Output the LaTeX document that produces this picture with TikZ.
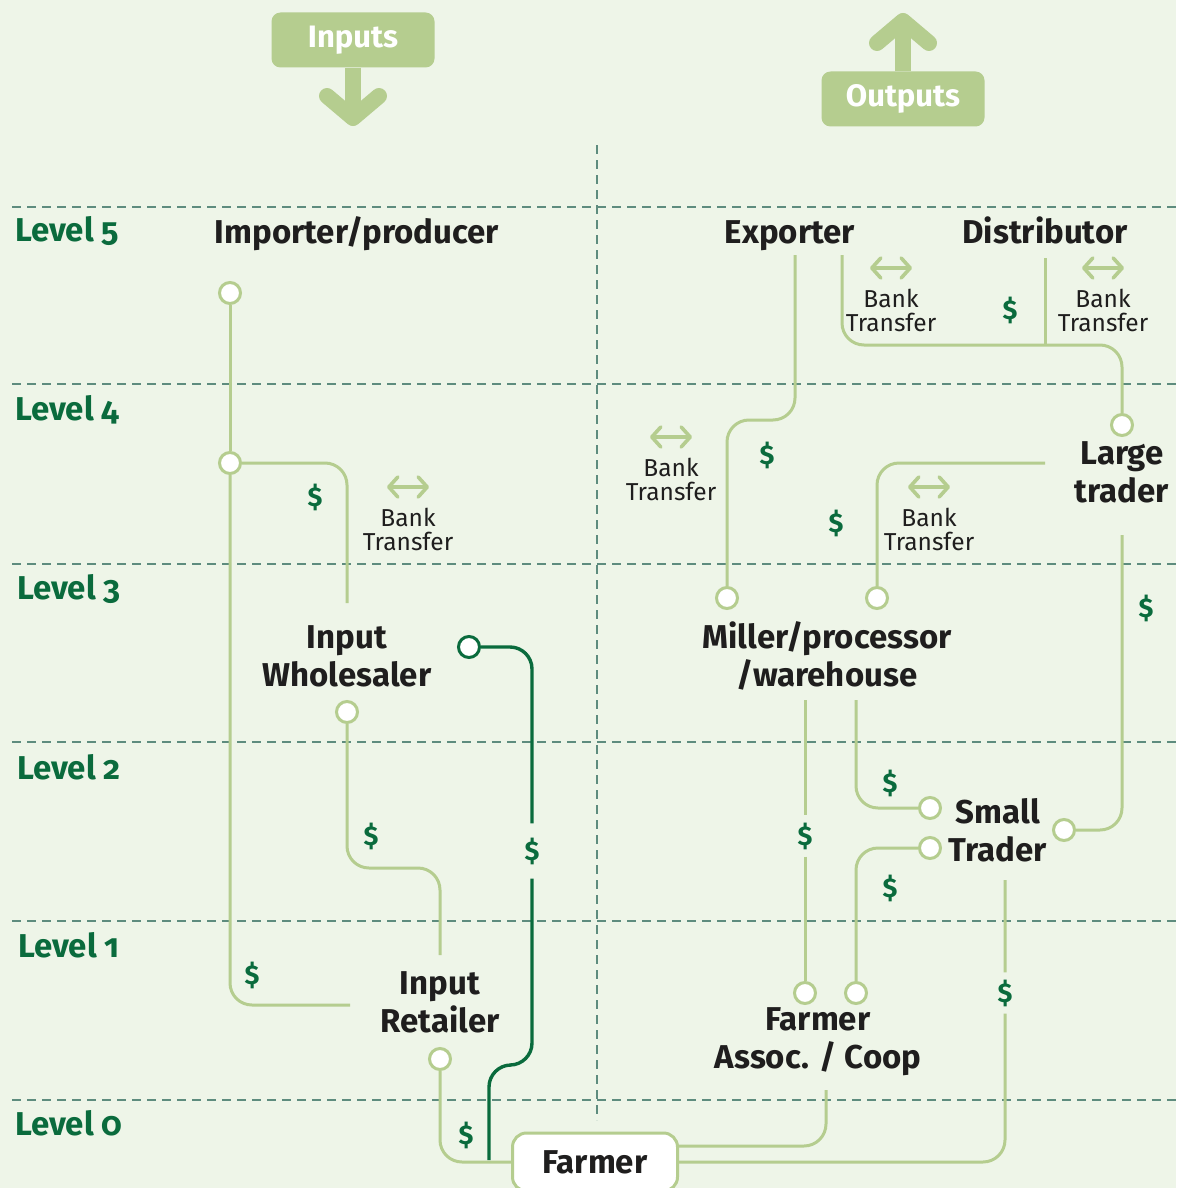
\documentclass[tikz,border=0pt]{standalone}
\usepackage{fontspec}
\setmainfont{Fira Sans}
\usetikzlibrary{arrows.meta,calc}
\definecolor{paper}{HTML}{EEF5E8}
\definecolor{sprout}{HTML}{B5CD8F}
\definecolor{pine}{HTML}{0A6B3D}
\definecolor{rule}{HTML}{5E8C7E}
\definecolor{ink}{HTML}{1F1E1E}
\tikzset{
 lane/.style={draw=rule,line width=2.8pt,dash pattern=on 9pt off 6pt},
 flow/.style={draw=sprout,line width=3pt,rounded corners=22pt},
 cash/.style={draw=pine,line width=3.4pt,rounded corners=22pt},
 hub/.style={shape=circle,draw=sprout,fill=white,line width=3pt,minimum size=21pt,inner sep=0pt},
 actor/.style={align=center,text=ink,font=\fontsize{33}{38}\selectfont\bfseries},
 tier/.style={anchor=west,inner sep=0pt,text=pine,font=\fontsize{33}{36}\selectfont\bfseries\addfontfeatures{Numbers=OldStyle}},
 dollar/.style={text=pine,inner sep=7pt,font=\fontsize{27}{27}\selectfont\bfseries},
 bank/.style={align=center,text=ink,font=\fontsize{24.5}{24}\selectfont},
 xfer/.style={draw=sprout,line width=3.6pt,{Straight Barb[length=9pt,width=20pt,round]}-{Straight Barb[length=9pt,width=20pt,round]}},
 tag/.style={rounded corners=9pt,fill=sprout,text=white,minimum width=163pt,minimum height=55pt,font=\fontsize{31}{31}\selectfont\bfseries},
 bigarrow/.style={draw=sprout,line width=16pt,-{Straight Barb[length=22pt,width=52pt,round]}}
}
\begin{document}
\begin{tikzpicture}[x=1pt,y=-1pt]
 \useasboundingbox (0,0) rectangle (1176,1188);
 \clip (0,0) rectangle (1176,1188);
 \fill[paper] (0,0) rectangle (1176,1188);
 \draw[lane] (12,207) -- (1176,207);
 \draw[lane] (12,384) -- (1176,384);
 \draw[lane] (12,564) -- (1176,564);
 \draw[lane] (12,742) -- (1176,742);
 \draw[lane] (12,921) -- (1176,921);
 \draw[lane] (12,1100) -- (1176,1100);
 \draw[lane] (597,145) -- (597,1120);
 \node[tier] (lvl 5) at (15,231) {Level 5};
 \node[tier] (lvl 4) at (15,410) {Level 4};
 \node[tier] (lvl 3) at (17,589) {Level 3};
 \node[tier] (lvl 2) at (17,767) {Level 2};
 \node[tier] (lvl 1) at (18,945) {Level 1};
 \node[tier] (lvl 0) at (15,1123) {Level 0};
 \node[tag] (in box) at (353,40) {Inputs};
 \coordinate (in tip) at (353,126);
 \draw[bigarrow] (in box.south) -- (in tip);
 \node[tag] (out box) at (903,99) {Outputs};
 \coordinate (out tip) at (903,13);
 \draw[bigarrow] (out box.north) -- (out tip);
 \node[actor,anchor=base] (imp) at (357,243) {Importer/producer};
 \node[actor,anchor=base] (exp) at (790,243) {Exporter};
 \node[actor,anchor=base] (dis) at (1045,243) {Distributor};
 \node[actor] (lrg) at (1122,472) {Large\\trader};
 \node[actor] (whl) at (347,656) {Input\\Wholesaler};
 \node[actor] (mil) at (827,656) {Miller/processor\\/warehouse};
 \node[actor] (sml) at (998,830) {Small\\Trader};
 \node[actor] (ret) at (440,1002) {Input\\Retailer};
 \node[actor] (coo) at (818,1042) {Farmer\\Assoc. / Coop};
 \node[actor,draw=sprout,fill=white,line width=3pt,rounded corners=14pt,minimum width=165pt,minimum height=58pt] (farm) at (595,1162) {Farmer};
 \node[hub] (dot 1) at (230,293) {};
 \node[hub] (dot 2) at (230,463) {};
 \node[hub] (dot 3) at (347,712) {};
 \node[hub] (dot 4) at (440,1059) {};
 \node[hub,draw=pine] (dot 5) at (469,647) {};
 \node[hub] (dot 6) at (727,598) {};
 \node[hub] (dot 7) at (877,598) {};
 \node[hub] (dot 8) at (1122,425) {};
 \node[hub] (dot 9) at (930,808) {};
 \node[hub] (dot 10) at (930,848) {};
 \node[hub] (dot 11) at (1064,830) {};
 \node[hub] (dot 12) at (805,993) {};
 \node[hub] (dot 13) at (856,993) {};
 \node[dollar] (usd 1) at (315,497) {\$};
 \node[dollar] (usd 2) at (371,836) {\$};
 \node[dollar] (usd 3) at (252,975) {\$};
 \node[dollar] (usd 4) at (466,1135) {\$};
 \node[dollar,inner sep=14pt] (usd 5) at (532,851) {\$};
 \node[dollar] (usd 6) at (767,455) {\$};
 \node[dollar] (usd 7) at (836,523) {\$};
 \node[dollar] (usd 8) at (1010,310) {\$};
 \node[dollar] (usd 9) at (1146,608) {\$};
 \node[dollar] (usd 10) at (805,836) {\$};
 \node[dollar] (usd 11) at (890,783) {\$};
 \node[dollar] (usd 12) at (890,888) {\$};
 \node[dollar] (usd 13) at (1005,993) {\$};
 \draw[xfer] (387,487) -- (429,487);
 \node[bank] (bank 1) at (408,529) {Bank\\Transfer};
 \draw[xfer] (650,437) -- (692,437);
 \node[bank] (bank 2) at (671,479) {Bank\\Transfer};
 \draw[xfer] (908,487) -- (950,487);
 \node[bank] (bank 3) at (929,529) {Bank\\Transfer};
 \draw[xfer] (870,268) -- (912,268);
 \node[bank] (bank 4) at (891,310) {Bank\\Transfer};
 \draw[xfer] (1082,268) -- (1124,268);
 \node[bank] (bank 5) at (1103,310) {Bank\\Transfer};
 \coordinate (ret w) at (350,1005);
 \coordinate (whl n) at (347,603);
 \coordinate (ret n) at (440,955);
 \coordinate (cash end) at (489,1160);
 \coordinate (exp a) at (795,255);
 \coordinate (exp b) at (842,255);
 \coordinate (dis a) at (1045,258);
 \coordinate (dis b) at (1045,345);
 \coordinate (lrg a) at (1045,463);
 \coordinate (lrg b) at (1122,535);
 \coordinate (mil a) at (805,700);
 \coordinate (mil b) at (856,700);
 \coordinate (sml a) at (1005,880);
 \coordinate (coo a) at (826,1090);
 \draw[flow] (dot 1) -- (dot 2);
 \draw[flow] (dot 2) |- (ret w);
 \draw[flow] (dot 2) -| (whl n);
 \draw[flow] (dot 3) -- ++(0,156) -| (ret n);
 \draw[flow] (dot 4) |- (farm.west);
 \draw[cash] (dot 5) -| (usd 5);
 \draw[cash] (usd 5) -- ++(0,214) -| (cash end);
 \draw[flow] (exp a) -- ++(0,165) -| (dot 6);
 \draw[flow] (exp b) -- ++(0,90) -| (dot 8);
 \draw[flow] (dis a) -- (dis b);
 \draw[flow] (lrg a) -| (dot 7);
 \draw[flow] (lrg b) |- (dot 11);
 \draw[flow] (mil a) -- (usd 10) -- (dot 12);
 \draw[flow] (mil b) |- (dot 9);
 \draw[flow] (dot 10) -| (dot 13);
 \draw[flow] (sml a) -- (usd 13) |- (farm.east);
 \draw[flow] (coo a) |- ($(farm.east)+(0,-16)$);
\end{tikzpicture}
\end{document}
